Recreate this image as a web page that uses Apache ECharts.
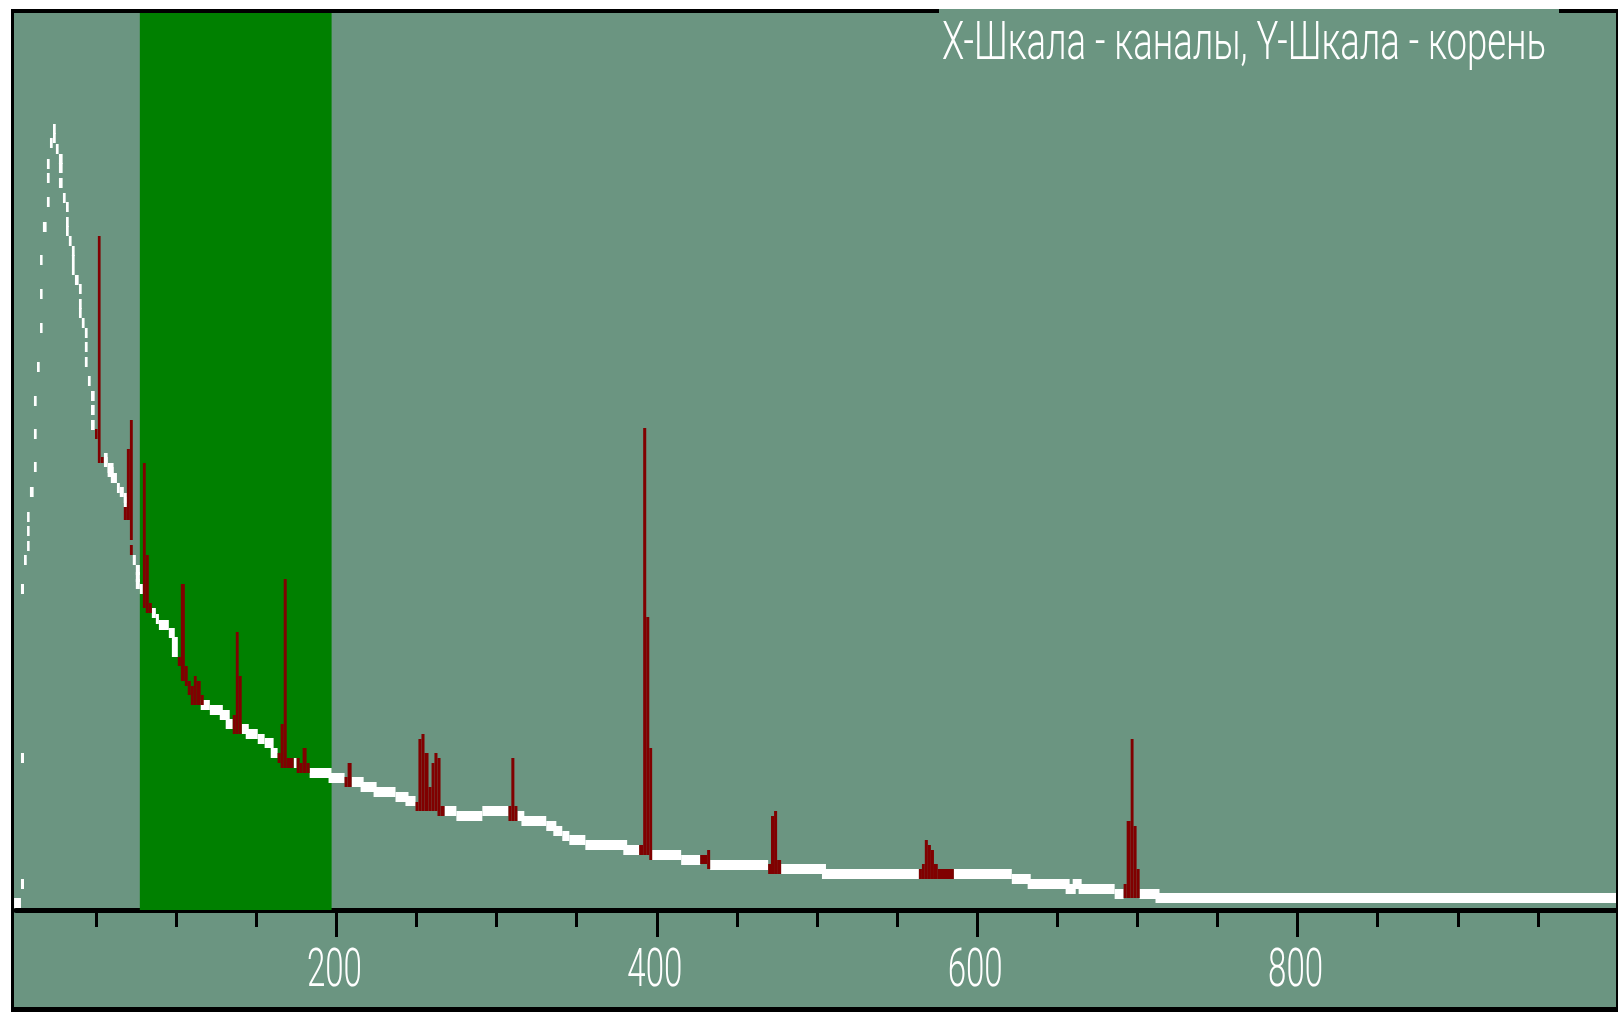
<!DOCTYPE html>
<html><head><meta charset="utf-8">
<script src="https://cdn.jsdelivr.net/npm/echarts@6/dist/echarts.min.js"></script>
<style>html,body{margin:0;padding:0;background:#fff}#c{width:1618px;height:1012px}</style>
</head><body><div id="c"></div>
<script>
// ---- data (channels on X, square-root-scaled counts on Y) ----
const titleText = 'X-Шкала - каналы, Y-Шкала - корень';
const xTickLabels = [200, 400, 600, 800];
const minorTickValues = [50,100,150,250,300,350,450,500,550,650,700,750,850,900,950];
const roiWindow = [77.3, 197.0];

// [channel start, channel end, level] — white spectrum points, rising edge
const risingEdge = [
  [-1.2,3.1,7],[3.1,5.0,26],[3.1,5.0,152],[3.1,5.0,321],[5.0,6.7,350],
  [6.9,8.5,364],[6.9,8.5,379],[6.9,8.5,393],[8.7,11.0,418],
  [11.2,12.9,443],[11.2,12.9,476],[11.2,12.9,509],[13.1,14.8,543],
  [15.0,16.6,582],[15.0,16.6,616],[15.0,16.6,650],[16.8,19.1,683],
  [19.3,21.0,708],[19.3,21.0,732],[19.3,21.0,746],[21.2,22.9,767],
  [23.1,24.8,772],[23.1,24.8,781]
];
// falling edge
const fallingEdge = [
  [24.9,26.6,761],[26.8,29.1,751],[26.8,29.1,742],[26.8,29.1,727],[29.3,31.0,712],
  [31.2,32.9,703],[31.2,32.9,688],[31.2,32.9,679],[33.0,34.7,669],
  [34.9,36.6,659],[34.9,36.6,650],[34.9,36.6,640],[36.8,39.1,630],
  [39.3,41.0,621],[39.3,41.0,606],[39.3,41.0,597],[41.1,42.8,587],
  [43.0,44.7,577],[43.0,44.7,563],[43.0,44.7,548],[44.9,46.6,529],
  [46.8,49.1,514],[46.8,49.1,500],[46.8,49.1,485]
];
// continuum runs
const continuum = [
  [54.9,57.2,452],[54.9,57.2,448],[57.2,60.9,442],[57.2,60.9,438],[59.2,63.0,432],
  [63.0,64.8,422],[64.8,67.3,418],[67.3,69.2,412],[67.3,69.2,408],
  [72.9,74.8,350],[74.8,77.3,340],[74.8,77.3,333],[74.8,77.3,326],[77.3,79.2,321],
  [84.8,87.3,297],[87.3,89.2,291],[89.2,95.4,285],[95.4,99.1,277],
  [97.3,101.0,268],[97.3,101.0,258],
  [115.3,121.0,205],[121.0,129.1,200],[127.2,133.4,195],[130.9,135.3,186],
  [140.9,145.3,181],[143.4,150.9,176],[150.9,155.2,171],[155.2,160.8,167],[159.0,163.3,157],
  [173.3,175.2,147],[183.3,197.0,137],[195.1,205.1,132],
  [209.5,217.0,128],[215.1,225.1,123],[223.2,236.9,118],[236.9,245.0,113],[243.1,249.4,109],
  [267.5,274.9,99],[274.9,291.1,94],[291.1,307.4,99],
  [313.0,317.3,94],[315.5,331.0,89],[331.0,337.3,84],[335.4,341.0,79],[341.0,345.4,74],
  [345.4,355.4,70],[355.4,381.5,65],[379.1,389.0,60],
  [397.1,415.2,55],[415.2,427.1,50],[433.3,469.5,45],
  [477.6,505.6,41],[503.1,563.6,36],
  [585.4,621.6,36],[621.6,633.4,31],[631.5,657.7,26],[655.2,661.5,21],[659.6,665.2,26],
  [663.3,685.8,21],[685.8,691.4,16],[701.4,713.8,16],[711.3,1000,12]
];
// [channel start, channel end, base, top] — peak regions (dark red)
const peaks = [
  [49.3,50.9,471,481],[51.1,52.8,447,674],[53.0,54.7,447,453],
  [67.3,69.2,390,403],[69.2,71.1,390,461],[71.1,72.9,370,490],[71.1,72.9,355,365],
  [79.2,81.0,302,447],[81.0,82.9,297,355],[82.9,84.8,297,307],
  [101.0,102.9,244,253],[102.9,105.4,229,326],[105.4,107.2,224,244],[107.2,109.1,215,229],
  [109.1,111.0,205,224],[111.0,112.8,205,234],[112.8,115.3,205,229],[115.3,117.2,205,215],
  [135.3,137.2,176,195],[137.2,139.0,176,278],[139.0,140.9,176,234],
  [163.3,165.2,147,157],[165.2,167.1,142,186],[167.1,169.0,142,331],[169.0,173.3,142,152],
  [175.2,177.1,137,152],[177.1,178.9,137,147],[178.9,181.4,137,162],[181.4,183.3,137,147],
  [205.1,207.0,123,133],[207.0,209.5,123,147],
  [249.4,251.2,99,108],[251.2,253.1,99,171],[253.1,255.0,99,176],[255.0,257.5,99,157],
  [257.5,259.4,99,123],[259.4,261.2,99,147],[261.2,263.1,99,157],[263.1,265.0,94,152],[265.0,267.5,94,104],
  [307.4,309.2,89,104],[309.2,311.1,89,152],[311.1,313.0,89,104],
  [389.0,391.5,55,65],[391.5,393.4,55,482],[393.4,395.3,55,293],[395.3,397.1,50,162],
  [427.1,431.4,46,55],[431.4,433.3,41,60],
  [469.5,471.3,36,46],[471.3,473.2,36,94],[473.2,475.1,36,99],[475.1,477.6,36,50],
  [563.6,565.5,31,41],[565.5,567.3,31,46],[567.3,569.2,31,70],[569.2,571.1,31,65],
  [571.1,573.0,31,60],[573.0,575.4,31,46],[575.4,585.4,31,41],
  [691.4,693.3,12,26],[693.3,695.8,12,89],[695.8,697.6,12,171],[697.6,699.5,12,84],[699.5,701.4,12,41]
];

// ---- chart ----
const BG = '#6b9581', GREEN = '#008000', MAROON = '#800000';
const YMAX = 897;
const chart = echarts.init(document.getElementById('c'), null, {renderer: 'canvas'});

const option = {
  animation: false,
  backgroundColor: BG,
  grid: {left: 16, top: 13, width: 1604, height: 897},
  xAxis: [
    {type: 'value', min: 0, max: 1000, interval: 200,
     axisLine: {lineStyle: {color: '#000', width: 5}},
     axisTick: {customValues: xTickLabels, length: 27, lineStyle: {color: '#000', width: 3}},
     axisLabel: {show: false}, splitLine: {show: false}},
    {type: 'value', min: 0, max: 1000, interval: 50, position: 'bottom',
     axisLine: {show: false},
     axisTick: {customValues: minorTickValues, length: 17, lineStyle: {color: '#000', width: 3}},
     axisLabel: {show: false}, splitLine: {show: false}}
  ],
  yAxis: {type: 'value', min: 0, max: YMAX, show: false},
  series: [
    {type: 'custom', z: 1, silent: true, clip: false,
     data: [roiWindow],
     encode: {x: [0, 1]},
     renderItem: function (params, api) {
       const a = api.coord([api.value(0), YMAX]);
       const b = api.coord([api.value(1), 0]);
       return {type: 'rect', shape: {x: a[0], y: a[1], width: b[0] - a[0], height: b[1] - a[1]},
               style: {fill: GREEN}};
     }},
    {type: 'custom', z: 3, silent: true, clip: false,
     data: risingEdge.concat(fallingEdge, continuum),
     encode: {x: [0, 1], y: 2},
     renderItem: function (params, api) {
       const a = api.coord([api.value(0), api.value(2)]);
       const b = api.coord([api.value(1), api.value(2)]);
       return {type: 'rect', shape: {x: a[0], y: a[1] - 5, width: b[0] - a[0], height: 10},
               style: {fill: '#ffffff'}};
     }},
    {type: 'custom', z: 4, silent: true, clip: false,
     data: peaks,
     encode: {x: [0, 1], y: [2, 3]},
     renderItem: function (params, api) {
       const a = api.coord([api.value(0), api.value(2)]);
       const b = api.coord([api.value(1), api.value(3)]);
       return {type: 'rect', shape: {x: a[0], y: b[1], width: b[0] - a[0], height: a[1] - b[1]},
               style: {fill: MAROON}};
     }}
  ]
};
chart.setOption(option);

// ---- frame and texts ----
const FONT = "300 53px Roboto, 'DejaVu Sans', sans-serif";
const ctx = document.createElement('canvas').getContext('2d');
ctx.font = FONT;
const titleScale = 604 / ctx.measureText(titleText).width;
const labelScale = 55 / ctx.measureText('200').width;

const graphics = [
  {type: 'rect', z: 100, shape: {x: 0, y: 0, width: 1618, height: 9}, style: {fill: '#fff'}},
  {type: 'rect', z: 100, shape: {x: 0, y: 0, width: 11, height: 1012}, style: {fill: '#fff'}},
  {type: 'rect', z: 101, shape: {x: 11, y: 9, width: 3, height: 1003}, style: {fill: '#000'}},
  {type: 'rect', z: 101, shape: {x: 11, y: 9, width: 928, height: 4}, style: {fill: '#000'}},
  {type: 'rect', z: 101, shape: {x: 1559, y: 9, width: 59, height: 4}, style: {fill: '#000'}},
  {type: 'rect', z: 101, shape: {x: 1616, y: 9, width: 2, height: 1003}, style: {fill: '#000'}},
  {type: 'rect', z: 101, shape: {x: 11, y: 1007, width: 1607, height: 5}, style: {fill: '#000'}},
  {type: 'text', z: 102, x: 942, y: 46, scaleX: titleScale,
   style: {text: titleText, font: FONT, fill: '#fff', align: 'left', verticalAlign: 'middle'}}
];
xTickLabels.forEach(function (v) {
  const px = chart.convertToPixel({xAxisIndex: 0}, v);
  graphics.push({type: 'text', z: 102, x: px - 2, y: 973, scaleX: labelScale,
    style: {text: String(v), font: FONT, fill: '#fff', align: 'center', verticalAlign: 'middle'}});
});
chart.setOption({graphic: graphics});
</script>
</body></html>
